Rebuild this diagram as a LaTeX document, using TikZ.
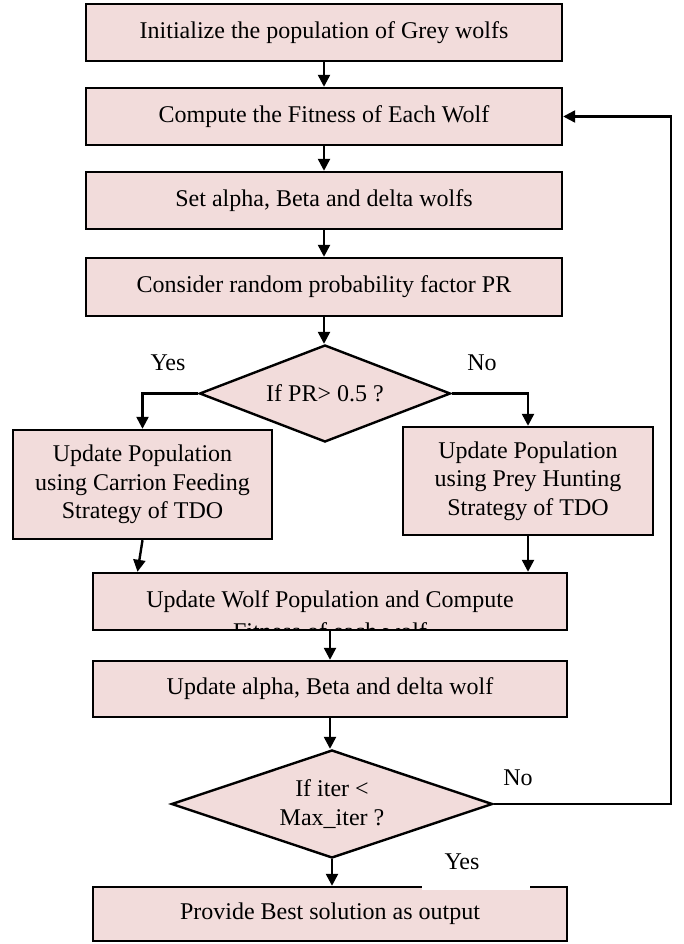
\documentclass[tikz,border=0pt]{standalone}
\usepackage{fontspec}
\setmainfont{Liberation Serif}
\usetikzlibrary{arrows.meta,shapes.geometric}
\definecolor{boxfill}{HTML}{F2DCDB}
\newcommand{\fcfont}{\fontsize{24}{28.5}\selectfont}
\tikzset{
  box/.style={draw=black, fill=boxfill, line width=2.4pt, inner sep=0pt, align=center, font=\fcfont},
  decision/.style={diamond, draw=black, fill=boxfill, line width=2.4pt, inner sep=0pt, align=center, font=\fcfont},
  arr/.style={line width=2.4pt, -{Triangle[length=12pt,width=12pt]}},
  lbl/.style={font=\fcfont, inner sep=0pt}
}
\begin{document}
\begin{tikzpicture}[x=1pt,y=-1pt]
\useasboundingbox (0,0) rectangle (684,944);
% top boxes
\node[box, minimum width=476, minimum height=57] (b1) at (324,32.5) {Initialize the population of Grey wolfs};
\node[box, minimum width=476, minimum height=57] (b2) at (324,116.5) {Compute the Fitness of Each Wolf};
\node[box, minimum width=476, minimum height=57] (b3) at (324,200.5) {Set alpha, Beta and delta wolfs};
\node[box, minimum width=476, minimum height=58] (b4) at (324,287) {Consider random probability factor PR};
% first decision
\node[decision, minimum width=251, minimum height=97, shape aspect=2.6] (d1) at (325,393.5) {If PR> 0.5 ?};
\node[lbl] (yes1) at (168,363) {Yes};
\node[lbl] (no1) at (482,363) {No};
% branch boxes
\node[box, minimum width=259, minimum height=109] (lb) at (142.5,484.5) {Update Population\\using Carrion Feeding\\Strategy of TDO};
\node[box, minimum width=250, minimum height=108] (rb) at (528,481) {Update Population\\using Prey Hunting\\Strategy of TDO};
% middle box with clipped second line
\node[box, minimum width=474, minimum height=57] (mid) at (330,601.5) {};
\begin{scope}
  \clip ([xshift=1.2pt,yshift=1.2pt]mid.south west) rectangle ([xshift=-1.2pt,yshift=-1.2pt]mid.north east);
  \node[lbl, anchor=base] (midl1) at (330,607) {Update Wolf Population and Compute};
  \node[lbl, anchor=base] (midl2) at (330,639) {Fitness of each wolf};
\end{scope}
\node[box, minimum width=474, minimum height=56] (alpha) at (330,689) {Update alpha, Beta and delta wolf};
% second decision
\node[decision, minimum width=321, minimum height=108, shape aspect=3] (d2) at (332,804) {If iter <\\Max\_iter ?};
\node[lbl] (no2) at (518,778) {No};
% bottom box
\node[box, minimum width=474, minimum height=54] (bot) at (330,914) {Provide Best solution as output};
\fill[white] (422,846) rectangle (530,889.5);
\node[lbl] (yes2) at (462,862) {Yes};
% connectors
\draw[arr] (b1.south) -- (b2.north);
\draw[arr] (b2.south) -- (b3.north);
\draw[arr] (b3.south) -- (b4.north);
\draw[arr] (b4.south) -- (b4.south |- d1.north);
\draw[arr] (d1.west) -| (lb.north);
\draw[arr] (d1.east) -| (rb.north);
\draw[arr] (lb.south) -- ([xshift=-5pt]lb.south |- mid.north);
\draw[arr] (rb.south) -- (rb.south |- mid.north);
\draw[arr] (mid.south) -- (alpha.north);
\draw[arr] (alpha.south) -- (alpha.south |- d2.north);
\draw[arr] (d2.south) -- (d2.south |- bot.north);
\coordinate (fb) at (671,804);
\draw[arr] (d2.east) -- (fb) |- (b2.east);
\end{tikzpicture}
\end{document}
